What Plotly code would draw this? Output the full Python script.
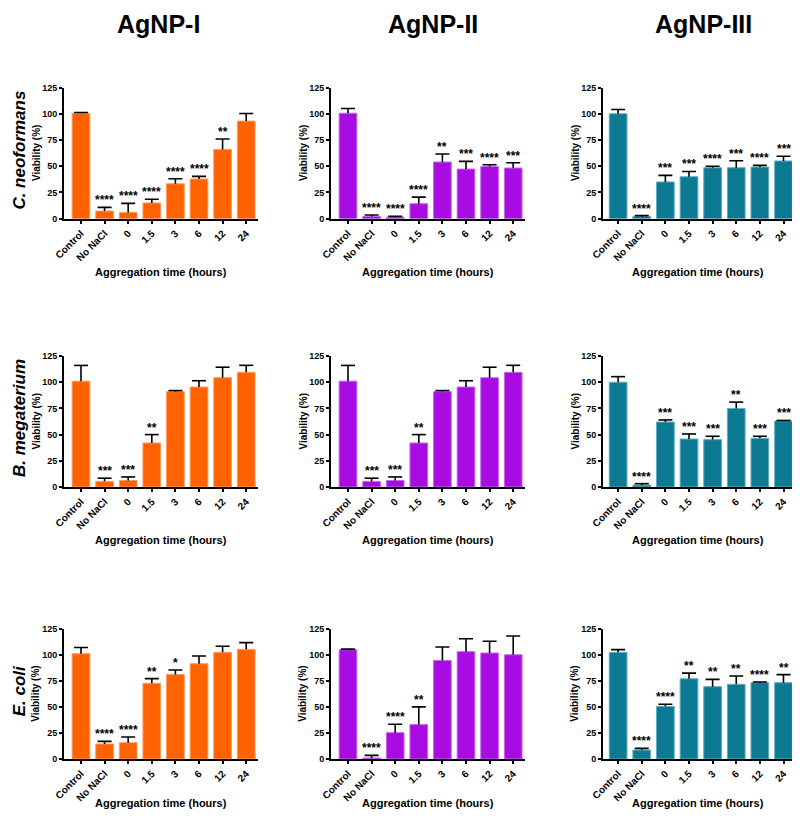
import plotly.graph_objects as go

categories = ["Control", "No NaCl", "0", "1.5", "3", "6", "12", "24"]
col_titles = ["AgNP-I", "AgNP-II", "AgNP-III"]
row_titles = ["C. neoformans", "B. megaterium", "E. coli"]
bar_colors = ["#FF6200", "#A90BE3", "#0B7A92"]
edge_colors = ["#FF9A5C", "#C866F0", "#5FAFC2"]
y_ticks = [0, 25, 50, 75, 100, 125]
x_title = "Aggregation time (hours)"
y_title = "Viability (%)"

# C. neoformans
cneo_I_mean = [100.5, 7.3, 6.0, 15.0, 33.3, 37.8, 66.0, 93.0]
cneo_I_err = [0.7, 3.5, 8.6, 3.5, 4.8, 2.5, 10.0, 7.3]
cneo_I_sig = ["", "****", "****", "****", "****", "****", "**", ""]

cneo_II_mean = [100.5, 2.2, 1.5, 14.3, 54.0, 47.3, 49.8, 48.3]
cneo_II_err = [4.5, 1.3, 0.7, 6.3, 7.6, 7.3, 1.6, 5.0]
cneo_II_sig = ["", "****", "****", "****", "**", "***", "****", "***"]

cneo_III_mean = [100.0, 2.2, 35.0, 40.0, 48.6, 48.6, 49.2, 55.0]
cneo_III_err = [4.0, 0.7, 6.3, 5.0, 1.3, 6.6, 1.6, 4.5]
cneo_III_sig = ["", "****", "***", "***", "****", "***", "****", "***"]

# B. megaterium
bmeg_I_mean = [101.0, 5.4, 6.2, 42.0, 91.0, 95.4, 104.3, 109.4]
bmeg_I_err = [15.0, 3.0, 3.4, 8.0, 1.0, 6.0, 10.0, 6.7]
bmeg_I_sig = ["", "***", "***", "**", "", "", "", ""]

bmeg_II_mean = [101.0, 5.4, 6.2, 42.0, 91.0, 95.4, 104.3, 109.4]
bmeg_II_err = [15.0, 3.0, 3.4, 8.0, 1.0, 6.0, 10.0, 6.7]
bmeg_II_sig = ["", "***", "***", "**", "", "", "", ""]

bmeg_III_mean = [100.0, 1.9, 62.0, 45.8, 45.2, 75.0, 46.4, 63.0]
bmeg_III_err = [5.3, 1.3, 2.0, 4.8, 3.2, 6.0, 2.0, 0.5]
bmeg_III_sig = ["", "****", "***", "***", "***", "**", "***", "***"]

# E. coli
ecoli_I_mean = [101.0, 14.4, 15.7, 72.6, 81.0, 91.4, 102.3, 105.2]
ecoli_I_err = [6.0, 2.5, 5.4, 4.5, 4.4, 7.4, 5.8, 6.4]
ecoli_I_sig = ["", "****", "****", "**", "*", "", "", ""]

ecoli_II_mean = [104.8, 1.0, 25.3, 33.0, 94.6, 103.0, 101.7, 100.0]
ecoli_II_err = [0.6, 2.5, 8.0, 17.0, 12.8, 12.4, 11.2, 18.0]
ecoli_II_sig = ["", "****", "****", "**", "", "", "", ""]

ecoli_III_mean = [102.3, 8.6, 50.5, 77.0, 69.4, 71.6, 73.2, 73.2]
ecoli_III_err = [2.6, 1.6, 2.0, 5.4, 7.0, 8.0, 0.7, 7.7]
ecoli_III_sig = ["", "****", "****", "**", "**", "**", "****", "**"]

panels = [
    [(cneo_I_mean, cneo_I_err, cneo_I_sig), (cneo_II_mean, cneo_II_err, cneo_II_sig), (cneo_III_mean, cneo_III_err, cneo_III_sig)],
    [(bmeg_I_mean, bmeg_I_err, bmeg_I_sig), (bmeg_II_mean, bmeg_II_err, bmeg_II_sig), (bmeg_III_mean, bmeg_III_err, bmeg_III_sig)],
    [(ecoli_I_mean, ecoli_I_err, ecoli_I_sig), (ecoli_II_mean, ecoli_II_err, ecoli_II_sig), (ecoli_III_mean, ecoli_III_err, ecoli_III_sig)],
]

OFF = 8  # default margin of the html body around the figure
W, H = 800 - 2 * OFF, 818 - 2 * OFF
# layout in page pixels (figure pixels = page pixels - OFF)
col_px = [(64, 258), (331, 525), (603, 792)]
col_rng = [(-0.72, 7.5), (-0.72, 7.5), (-0.64, 7.36)]
row_px = [(87.5, 218.7), (356, 487), (628.7, 759)]
FONT = "Liberation Sans, Arial, Helvetica, sans-serif"


def px_x(p):
    return (p - OFF) / W


def px_y(p):
    return 1 - (p - OFF) / H


fig = go.Figure()
layout = dict(
    width=W, height=H, margin=dict(l=0, r=0, t=0, b=0, autoexpand=False),
    plot_bgcolor="white", paper_bgcolor="white", showlegend=False,
    font=dict(family=FONT, color="black"),
)
annotations = []
xpos = list(range(len(categories)))

for r in range(3):
    for c in range(3):
        idx = r * 3 + c + 1
        xa = "x" if idx == 1 else f"x{idx}"
        ya = "y" if idx == 1 else f"y{idx}"
        mean, err, sig = panels[r][c]
        tops = [m + e for m, e in zip(mean, err)]
        fig.add_trace(go.Bar(
            x=xpos, y=mean, xaxis=xa, yaxis=ya, width=0.75,
            marker=dict(color=bar_colors[c], line=dict(color=edge_colors[c], width=1)),
            error_y=dict(type="data", symmetric=False, array=err, arrayminus=[0] * len(err),
                         color="black", thickness=1.6, width=0),
        ))
        fig.add_trace(go.Scatter(
            x=xpos, y=tops, xaxis=xa, yaxis=ya, mode="markers",
            marker=dict(symbol="line-ew", size=10, line=dict(color="black", width=1.6)),
            hoverinfo="skip",
        ))
        x0, x1 = col_px[c]
        y0, y1 = row_px[r]
        xd = [px_x(x0), px_x(x1)]
        yd = [px_y(y1), px_y(y0)]
        layout["xaxis" + ("" if idx == 1 else str(idx))] = dict(
            domain=xd, anchor=ya, range=list(col_rng[c]), automargin=False,
            tickmode="array", tickvals=xpos, ticktext=[f"<b>{t}</b>" for t in categories],
            tickangle=-45, ticks="outside", ticklen=3, tickwidth=1.5, tickcolor="black",
            showline=True, linecolor="black", linewidth=2, showgrid=False, zeroline=False,
            tickfont=dict(size=10, family=FONT, color="black"),
        )
        layout["yaxis" + ("" if idx == 1 else str(idx))] = dict(
            domain=yd, anchor=xa, range=[0, 125], automargin=False,
            tickmode="array", tickvals=y_ticks, ticktext=[f"<b>{t}</b>" for t in y_ticks],
            ticks="outside", ticklen=3, tickwidth=1.5, tickcolor="black",
            showline=True, linecolor="black", linewidth=2, showgrid=False, zeroline=False,
            tickfont=dict(size=9, family=FONT, color="black"),
        )
        for i, s in enumerate(sig):
            if s:
                annotations.append(dict(
                    x=i, y=tops[i], xref=xa, yref=ya, text=f"<b>{s}</b>", showarrow=False,
                    yanchor="bottom", xanchor="center", yshift=-2,
                    font=dict(size=12, family=FONT, color="black"),
                ))
        # axis titles
        annotations.append(dict(
            x=px_x((x0 + x1) / 2), y=px_y(min(y1 + 53, 803)), xref="paper", yref="paper",
            text=f"<b>{x_title}</b>", showarrow=False, xanchor="center", yanchor="middle",
            font=dict(size=11, family=FONT, color="black"),
        ))
        annotations.append(dict(
            x=px_x(x0 - 28), y=px_y((y0 + y1) / 2), xref="paper", yref="paper",
            text=f"<b>{y_title}</b>", showarrow=False, textangle=-90,
            xanchor="center", yanchor="middle",
            font=dict(size=10, family=FONT, color="black"),
        ))

col_centers = [158, 433, 703]
for c, t in enumerate(col_titles):
    annotations.append(dict(
        x=px_x(col_centers[c]), y=px_y(OFF), xref="paper", yref="paper",
        text=f"<b>{t}</b>", showarrow=False, xanchor="center", yanchor="top",
        font=dict(size=25, family=FONT, color="black"),
    ))
for r, t in enumerate(row_titles):
    y0, y1 = row_px[r]
    annotations.append(dict(
        x=px_x(OFF), y=px_y((y0 + y1) / 2 - 3), xref="paper", yref="paper",
        text=f"<b><i>{t}</i></b>", showarrow=False, textangle=-90,
        xanchor="left", yanchor="middle",
        font=dict(size=17, family=FONT, color="black"),
    ))

layout["annotations"] = annotations
fig.update_layout(**layout)
fig.write_html("out.html")
